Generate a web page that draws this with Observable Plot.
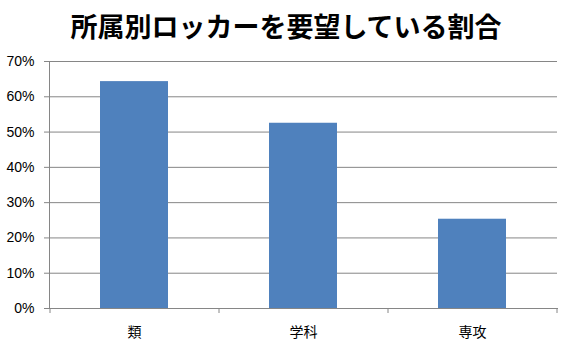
<!DOCTYPE html>
<html>
<head>
<meta charset="utf-8">
<script src="https://cdn.jsdelivr.net/npm/d3@7"></script>
<script src="https://cdn.jsdelivr.net/npm/@observablehq/plot@0.6"></script>
<style>
  html, body { margin: 0; padding: 0; background: #fff; }
  #wrap { width: 572px; height: 356px; overflow: hidden; background: #fff; }
  #title { height: 50px; line-height: 52px; text-align: center; font-family: "Noto Sans CJK JP", sans-serif; font-weight: bold; font-size: 27px; color: #000; white-space: nowrap; padding-left: 0px; }
  #chart svg text { fill: #000; }
</style>
</head>
<body>
<div id="wrap">
  <div id="title">所属別ロッカーを要望している割合</div>
  <div id="chart"></div>
</div>
<script>
const categories = ["類", "学科", "専攻"];
const values = [64.3, 52.5, 25.3];
const yTicks = [0, 10, 20, 30, 40, 50, 60, 70];
const titleText = "所属別ロッカーを要望している割合";

const data = categories.map((c, i) => ({cat: c, value: values[i]}));

const chart = Plot.plot({
  width: 572,
  height: 306,
  marginLeft: 49,
  marginRight: 15,
  marginTop: 11,
  marginBottom: 48,
  style: {fontFamily: "'Liberation Sans', Arial, 'Noto Sans CJK JP', sans-serif", fontSize: "14px", color: "#868686", background: "#fff", overflow: "visible"},
  x: {domain: categories, paddingInner: 0.6, paddingOuter: 0.3, label: null, tickSize: 0, tickPadding: 19, line: true},
  y: {domain: [0, 70], ticks: yTicks, tickFormat: d => d + "%", label: null, tickSize: 5, tickPadding: 10, line: true},
  marks: [
    Plot.ruleY(yTicks.filter(d => d > 0), {stroke: "#868686", strokeWidth: 1}),
    Plot.barY(data, {x: "cat", y: "value", fill: "#4F81BD"})
  ]
});
document.getElementById("chart").appendChild(chart);

// boundary tick marks on the category axis, computed from the x scale
const xs = chart.scale("x");
const ys = chart.scale("y");
const gap = (xs.step - xs.bandwidth) / 2;
const bounds = categories.map(c => xs.apply(c) - gap);
bounds.push(xs.apply(categories[categories.length - 1]) + xs.bandwidth + gap);
const y0 = ys.apply(0);
d3.select(chart).append("g")
  .selectAll("line").data(bounds).join("line")
  .attr("x1", d => d + 0.5).attr("x2", d => d + 0.5)
  .attr("y1", y0).attr("y2", y0 + 5)
  .attr("stroke", "#868686");
</script>
</body>
</html>
